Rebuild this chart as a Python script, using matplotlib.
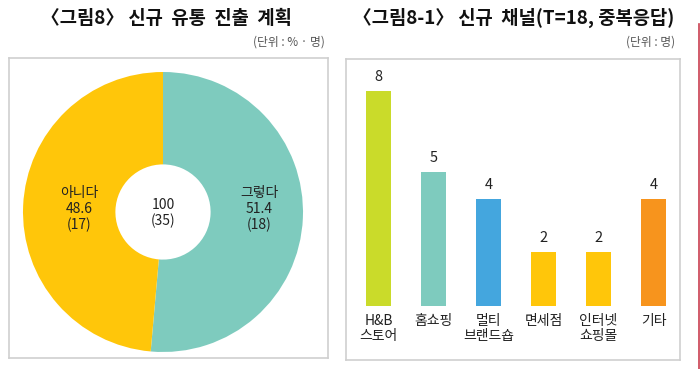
import matplotlib
matplotlib.use("Agg")
import matplotlib.pyplot as plt
from matplotlib.lines import Line2D

plt.rcParams['font.family'] = ['Noto Sans CJK KR', 'DejaVu Sans']

# ---- data ----
pie_labels = ["그렇다", "아니다"]
pie_pct = [51.4, 48.6]
pie_counts = [18, 17]
pie_total_pct = 100
pie_total_count = 35
pie_colors = ["#7ECBBE", "#FFC60A"]

bar_categories = ["H&B\n스토어", "홈쇼핑", "멀티\n브랜드숍", "면세점", "인터넷\n쇼핑몰", "기타"]
bar_values = [8, 5, 4, 2, 2, 4]
bar_colors = ["#CADB2A", "#7ECBBE", "#44A6DE", "#FFC60A", "#FFC60A", "#F7941D"]

title_left = "〈그림8〉 신규  유통  진출  계획"
title_right = "〈그림8-1〉 신규  채널(T=18, 중복응답)"
unit_left = "(단위 : % · 명)"
unit_right = "(단위 : 명)"

W, H = 700, 369
fig = plt.figure(figsize=(W / 100, H / 100), dpi=100)
fig.patch.set_facecolor("white")


def rect(x0, y0, x1, y1):
    """pixel box (top-left origin) -> figure fraction [l, b, w, h]"""
    return [x0 / W, 1 - y1 / H, (x1 - x0) / W, (y1 - y0) / H]


# ---- frames ----
for box in [(9, 58, 328, 358), (346, 59, 680, 360)]:
    fa = fig.add_axes(rect(*box))
    fa.set_xticks([]); fa.set_yticks([])
    fa.patch.set_alpha(0)
    for s in fa.spines.values():
        s.set_color("#CFCFCF")
        s.set_linewidth(1.2)

# ---- titles ----
fig.text(166 / W, 1 - 18 / H, title_left, ha="center", va="center",
         fontsize=13.5, fontweight="bold", color="#111111")
fig.text(514 / W, 1 - 18 / H, title_right, ha="center", va="center",
         fontsize=13.5, fontweight="bold", color="#111111")
fig.text(325 / W, 1 - 42 / H, unit_left, ha="right", va="center",
         fontsize=8.5, color="#555555")
fig.text(675 / W, 1 - 42 / H, unit_right, ha="right", va="center",
         fontsize=8.5, color="#555555")

# ---- donut ----
axp = fig.add_axes(rect(23, 72, 303, 352))
wedges, _ = axp.pie(pie_pct, colors=pie_colors, startangle=90, counterclock=False,
                    radius=1.0, wedgeprops=dict(width=0.66, linewidth=0))
axp.set_xlim(-1, 1); axp.set_ylim(-1, 1)
axp.set_aspect("equal")
axp.axis("off")
axp.text(0, -0.01, f"{pie_total_pct}\n({pie_total_count})", ha="center", va="center",
         fontsize=10, color="#222222", linespacing=1.15)
label_pos = [(0.69, 0.02), (-0.6, 0.02)]
for (lx, ly), lab, p, c in zip(label_pos, pie_labels, pie_pct, pie_counts):
    axp.text(lx, ly, f"{lab}\n{p}\n({c})", ha="center", va="center",
             fontsize=10, color="#222222", linespacing=1.15)

# ---- bars ----
axb = fig.add_axes(rect(351, 91, 681, 306))
x = list(range(len(bar_values)))
axb.bar(x, bar_values, width=0.455, color=bar_colors, linewidth=0)
axb.set_xlim(-0.5, len(bar_values) - 0.5)
axb.set_ylim(0, 8)
for xi, v in zip(x, bar_values):
    axb.annotate(str(v), (xi, v), xytext=(0, 5), textcoords="offset points",
                 ha="center", va="bottom", fontsize=10.5, color="#222222")
axb.set_xticks(x)
axb.set_xticklabels(bar_categories, fontsize=10, color="#222222", linespacing=1.1, va="top")
axb.tick_params(axis="x", length=0, pad=6)
axb.set_yticks([])
for s in axb.spines.values():
    s.set_visible(False)
axb.patch.set_alpha(0)

# ---- red edge line ----
fig.add_artist(Line2D([699 / W, 699 / W], [0, 1 - 24 / H], transform=fig.transFigure,
                      color="#C94050", linewidth=1.2))

fig.savefig("out.png", dpi=100, facecolor="white")
